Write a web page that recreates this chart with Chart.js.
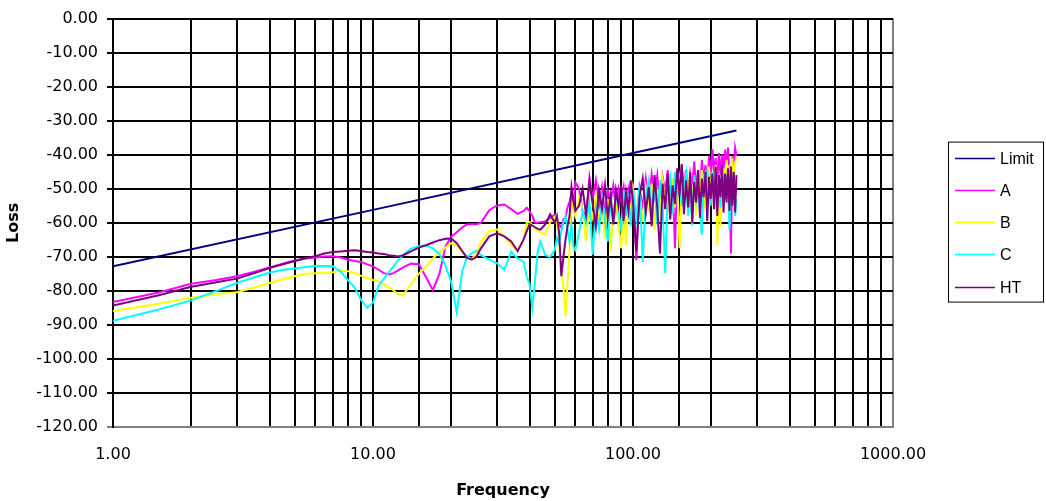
<!DOCTYPE html>
<html>
<head>
<meta charset="utf-8">
<title>Loss vs Frequency</title>
<script src="https://cdn.jsdelivr.net/npm/chart.js"></script>
<style>
  html, body { margin: 0; padding: 0; background: #fff; }
  #wrap { width: 1046px; height: 501px; }
</style>
</head>
<body>
<div id="wrap"><canvas id="lossChart"></canvas></div>
<script>
// measurement frequencies (MHz) shared by A, B, C and HT
const freq = [
  1, 1.5, 2, 2.5, 3, 3.5, 4, 4.5, 5, 5.5,
  6, 6.5, 7, 7.5, 8, 8.5, 9, 9.5, 10, 10.5,
  11, 11.5, 12, 12.5, 13, 14, 15, 16, 17, 18,
  19, 20, 21, 22, 23, 24, 25, 26, 28, 30,
  32, 34, 36, 38, 39, 40, 41, 42, 43, 44, 46, 48,
  50, 51, 52, 53, 54, 55, 56, 57, 58, 59, 60,
  62, 64, 66, 68, 70, 72, 74, 76, 78, 80, 82, 84, 86, 88, 90, 92, 94, 96, 98, 100,
  103, 106, 109, 112, 115, 118, 121, 124, 127, 130, 133, 136, 139, 142, 145, 148,
  151, 154, 157, 160, 163, 166, 169, 172, 175, 178, 181, 184, 187, 190, 193, 196, 199,
  202, 205, 208, 211, 214, 217, 220, 223, 226, 229, 232, 235, 238, 241, 244, 247, 250
];

const limitFreq = [1, 10, 100, 250];
const limitLoss = [-72.8, -56.2, -39.5, -32.9];

const lossA = [
  -83.3, -80.5, -77.9, -76.8, -75.7, -74.4, -73.1, -72.0, -71.1, -70.5,
  -70.2, -69.9, -69.8, -70.2, -70.8, -71.2, -71.5, -72.2, -72.8, -73.8,
  -74.8, -75.2, -74.8, -74.0, -73.2, -72.0, -72.2, -76.0, -79.8, -75.0,
  -67.0, -64.1, -62.8, -61.4, -60.4, -60.4, -60.4, -60.0, -56.3, -54.9,
  -54.6, -56.0, -57.4, -56.5, -55.6, -56.6, -58.0, -59.9, -60.0, -59.8, -59.6, -58.6,
  -57.6, -59.5, -60.5, -61.4, -59.0, -58.5, -55.5, -53.9, -51.5, -55.0, -48.1,
  -50.0, -56.5, -58.0, -46.6, -53.0, -47.5, -55.0, -49.5, -57.5, -50.5, -54.0, -49.0, -56.0, -50.0, -53.5, -49.5, -58.0, -50.5, -55.5, -48.5,
  -71.0, -50.0, -55.5, -47.0, -54.0, -45.8, -52.0, -46.0, -55.5, -46.5, -51.0, -44.5, -53.5, -47.0, -67.5, -45.0,
  -51.0, -43.2, -50.0, -44.5, -52.5, -45.5, -49.0, -42.0, -50.5, -44.5, -53.0, -41.5, -47.5, -43.0, -51.0, -40.5, -46.0,
  -38.4, -45.5, -41.0, -48.0, -39.5, -46.0, -40.0, -44.5, -38.5, -43.0, -37.9, -46.0, -69.0, -40.5, -45.0, -38.0, -40.3
];

const lossB = [
  -85.9, -83.8, -82.0, -81.0, -80.4, -79.0, -77.7, -76.6, -75.7, -75.0,
  -74.8, -74.8, -74.5, -74.1, -74.2, -74.8, -75.6, -76.2, -76.8, -77.2,
  -78.0, -79.0, -79.9, -81.0, -81.4, -78.0, -75.0, -72.8, -70.5, -68.6,
  -67.3, -66.0, -66.6, -68.6, -70.0, -70.6, -69.0, -65.5, -62.5, -61.9,
  -64.0, -66.5, -68.3, -64.8, -60.0, -59.8, -60.6, -61.6, -62.4, -62.8, -63.5, -59.8,
  -58.3, -60.5, -66.0, -73.0, -79.0, -87.4, -78.0, -68.0, -53.9, -56.0, -58.0,
  -52.6, -56.0, -65.5, -54.5, -58.5, -52.0, -60.5, -55.0, -64.5, -53.0, -68.5, -56.5, -52.5, -61.0, -67.5, -54.0, -66.5, -51.5, -58.0, -50.0,
  -57.5, -51.0, -59.5, -49.5, -55.0, -48.5, -62.0, -50.0, -56.5, -47.5, -54.0, -49.0, -58.5, -47.0, -55.5, -46.5,
  -67.5, -49.0, -55.0, -46.5, -52.0, -45.0, -53.5, -47.0, -58.0, -45.5, -51.0, -44.5, -56.0, -47.0, -50.5, -43.5, -52.0,
  -45.0, -54.0, -43.0, -66.5, -47.0, -61.0, -50.0, -44.0, -48.5, -41.5, -46.5, -43.0, -49.0, -41.0, -47.0, -42.5, -40.8
];

const lossC = [
  -88.8, -85.5, -82.8, -80.0, -77.7, -76.0, -74.6, -73.9, -73.4, -73.0,
  -72.7, -72.7, -72.8, -74.3, -76.8, -79.0, -82.7, -85.0, -83.5, -78.5,
  -76.5, -74.5, -72.8, -71.0, -69.6, -67.6, -66.9, -66.7, -67.5, -69.2,
  -72.5, -77.5, -86.4, -74.5, -70.0, -69.0, -68.2, -69.5, -70.8, -71.9,
  -73.8, -68.5, -70.5, -71.5, -75.7, -78.0, -85.0, -77.0, -68.5, -65.5, -69.5, -70.0,
  -68.0, -64.5, -66.0, -62.5, -60.0, -58.0, -62.0, -65.5, -60.5, -67.0, -68.0,
  -63.0, -56.5, -60.0, -54.0, -69.4, -55.5, -62.0, -52.5, -58.5, -65.5, -53.0, -60.0, -51.0, -56.5, -62.5, -50.5, -57.0, -53.0, -61.0, -50.0,
  -58.5, -49.0, -71.5, -52.0, -47.5, -56.0, -49.0, -60.5, -47.5, -55.0, -74.8, -50.0, -46.5, -57.5, -45.0, -52.0,
  -47.0, -55.0, -49.5, -45.5, -58.0, -47.5, -60.7, -46.0, -53.0, -48.5, -56.5, -63.5, -45.5, -51.0, -44.5, -49.5, -55.0,
  -45.0, -52.0, -44.6, -50.5, -47.0, -55.5, -45.5, -49.0, -53.0, -46.0, -50.0, -62.0, -47.0, -51.0, -45.5, -58.0, -53.0
];

const lossHT = [
  -84.3, -81.3, -78.8, -77.5, -76.4, -74.8, -73.3, -72.2, -71.2, -70.4,
  -69.8, -69.0, -68.6, -68.4, -68.2, -68.1, -68.3, -68.6, -68.7, -69.0,
  -69.2, -69.5, -69.7, -69.9, -69.6, -68.4, -67.3, -66.6, -65.8, -65.1,
  -64.7, -64.6, -66.0, -68.2, -70.3, -70.8, -70.0, -67.5, -64.0, -63.1,
  -64.0, -65.5, -68.3, -64.8, -62.5, -60.4, -60.8, -61.3, -61.8, -62.0, -60.5, -57.5,
  -60.0, -58.0, -63.0, -75.7, -70.0, -65.0, -61.0, -58.0, -49.5, -53.5, -56.5,
  -55.0, -50.0, -57.5, -48.0, -54.5, -61.0, -50.5, -56.0, -49.0, -58.5, -52.0, -60.5, -50.5, -55.0, -49.0, -59.5, -51.0, -56.5, -47.5, -54.0,
  -68.5, -52.0, -47.0, -57.0, -49.5, -61.0, -46.0, -55.5, -69.0, -48.5, -56.0, -45.5, -59.0, -49.0, -54.5, -44.0,
  -52.0, -42.7, -57.5, -47.5, -55.5, -45.0, -60.0, -48.0, -54.0, -44.5, -58.5, -47.0, -52.5, -45.0, -59.5, -46.5, -53.0,
  -45.5, -56.0, -43.5, -58.0, -46.0, -52.5, -43.0, -57.0, -45.5, -54.0, -44.0, -56.5, -43.5, -55.0, -45.0, -57.0, -46.0
];

const seriesNames = ['Limit', 'A', 'B', 'C', 'HT'];
const seriesColors = ['#000080', '#ff00ff', '#ffff00', '#00ffff', '#800080'];
const xLabelValues = [1, 10, 100, 1000];

function toPoints(xs, ys) {
  return xs.map((x, i) => ({x: x, y: ys[i]}));
}

// excel style legend: white box with a thin black frame, right of the plot
const boxLegend = {
  id: 'boxLegend',
  afterDraw(chart) {
    const ctx = chart.ctx;
    const area = chart.chartArea;
    const left = area.right + 55, top = area.top + 123, w = 95, h = 160;
    ctx.save();
    ctx.fillStyle = '#fff';
    ctx.fillRect(left, top, w, h);
    ctx.strokeStyle = '#000';
    ctx.lineWidth = 1;
    ctx.strokeRect(left + 0.5, top + 0.5, w, h);
    ctx.font = '16px "Liberation Sans", Arial, sans-serif';
    ctx.textBaseline = 'middle';
    ctx.textAlign = 'left';
    chart.data.datasets.forEach((ds, i) => {
      const y = Math.round(top + 16 + i * 32.25) + 0.5;
      ctx.strokeStyle = ds.borderColor;
      ctx.lineWidth = 1.5;
      ctx.beginPath();
      ctx.moveTo(left + 7, y);
      ctx.lineTo(left + 47, y);
      ctx.stroke();
      ctx.fillStyle = '#000';
      ctx.fillText(ds.label, left + 52, y + 1);
    });
    ctx.restore();
  }
};

const seriesData = [
  toPoints(limitFreq, limitLoss),
  toPoints(freq, lossA),
  toPoints(freq, lossB),
  toPoints(freq, lossC),
  toPoints(freq, lossHT)
];

const datasets = seriesNames.map((name, i) => ({
  label: name,
  data: seriesData[i],
  borderColor: seriesColors[i],
  backgroundColor: seriesColors[i],
  borderWidth: 2,
  pointRadius: 0,
  tension: 0,
  fill: false,
  order: seriesNames.length - 1 - i
}));

const tickFont = {family: '"DejaVu Sans", sans-serif', size: 16};
const titleFont = {family: '"DejaVu Sans", sans-serif', size: 16, weight: 'bold'};

new Chart(document.getElementById('lossChart'), {
  type: 'line',
  data: {datasets: datasets},
  options: {
    responsive: true,
    maintainAspectRatio: false,
    animation: false,
    layout: {padding: {left: 0, top: 15, right: 153, bottom: 0}},
    plugins: {
      legend: {display: false},
      tooltip: {enabled: false}
    },
    scales: {
      x: {
        type: 'logarithmic',
        min: 1,
        max: 1000,
        afterFit: (s) => { s.height = 74; },
        grid: {
          color: (c) => (c.tick && c.tick.value === 1000 ? '#808080' : '#000'),
          lineWidth: 2,
          drawTicks: false
        },
        border: {color: '#808080', width: 2},
        ticks: {
          autoSkip: false,
          maxRotation: 0,
          padding: 18,
          color: '#000',
          font: tickFont,
          callback: (v) => (xLabelValues.includes(v) ? Number(v).toFixed(2) : '')
        },
        title: {display: true, text: 'Frequency', color: '#000', font: titleFont, padding: {top: 0, bottom: 1}}
      },
      y: {
        min: -120,
        max: 0,
        afterFit: (s) => { s.width = 113; },
        grid: {
          color: (c) => (c.tick && c.tick.value === -120 ? '#808080' : '#000'),
          lineWidth: 2,
          tickLength: 6
        },
        border: {color: '#000', width: 2},
        ticks: {
          stepSize: 10,
          padding: 9,
          color: '#000',
          font: tickFont,
          callback: (v) => Number(v).toFixed(2)
        },
        title: {display: true, text: 'Loss', color: '#000', font: titleFont, padding: {top: 4, bottom: 0}}
      }
    }
  },
  plugins: [boxLegend]
});
</script>
</body>
</html>
